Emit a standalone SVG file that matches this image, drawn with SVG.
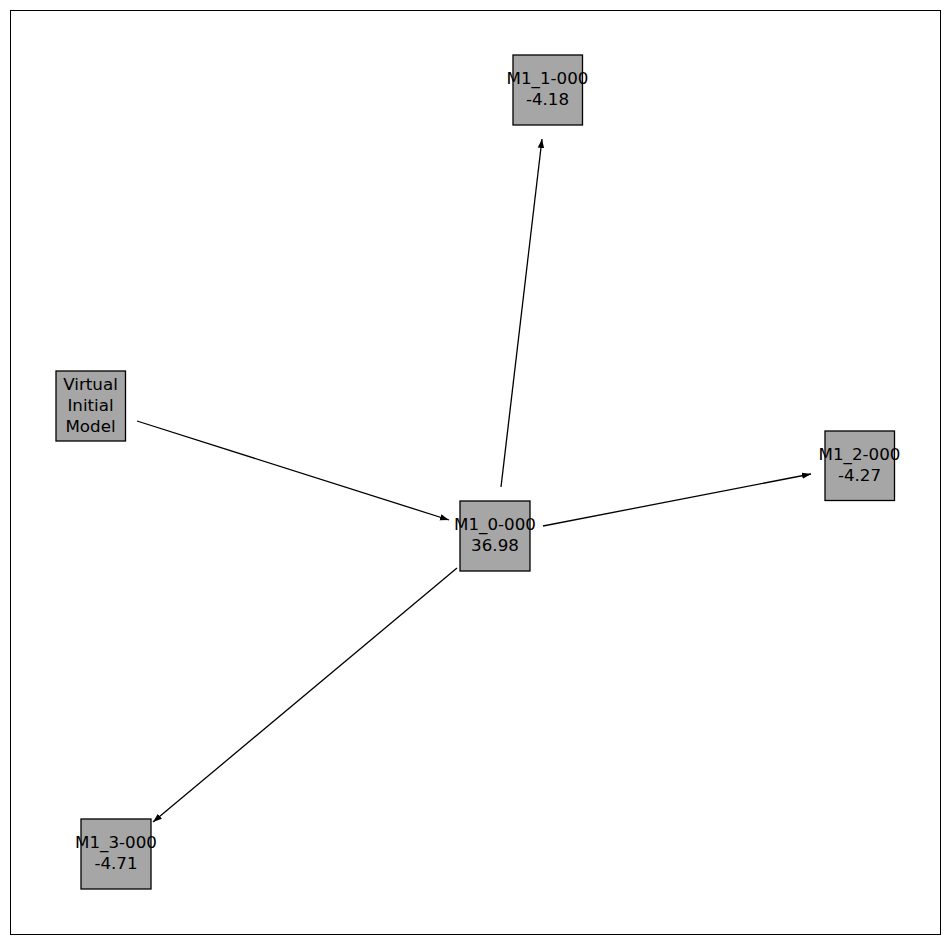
<svg xmlns="http://www.w3.org/2000/svg" width="950" height="944" viewBox="0 0 950 944">
<defs>
<marker id="ah" viewBox="0 0 9 7" refX="9" refY="3.5" markerWidth="9" markerHeight="7" markerUnits="userSpaceOnUse" orient="auto">
<path d="M0,0.3 L9,3.5 L0,6.7 Z" fill="#000"/>
</marker>
<style>
.node rect{fill:#a6a6a6;stroke:#000;stroke-width:1.3}
.node text{font-family:"DejaVu Sans",sans-serif;font-size:16.7px;fill:#000;text-anchor:middle}
.edge{stroke:#000;stroke-width:1.3;fill:none;marker-end:url(#ah)}
</style>
</defs>
<rect x="0" y="0" width="950" height="944" fill="#fff"/>
<rect x="10.5" y="10.5" width="930" height="924" fill="none" stroke="#000" stroke-width="1"/>
<g id="connectors">
<line class="edge" x1="137" y1="421" x2="449" y2="520"/>
<line class="edge" x1="501" y1="487" x2="542" y2="139"/>
<line class="edge" x1="543" y1="526" x2="811" y2="474"/>
<line class="edge" x1="457" y1="568" x2="153" y2="822"/>
</g>
<g id="node-virtual" class="node">
<rect x="56" y="371" width="69.5" height="70"/>
<text x="90.5" y="390">Virtual</text>
<text x="90.5" y="411">Initial</text>
<text x="90.5" y="432">Model</text>
</g>
<g id="node-M1_0" class="node">
<rect x="460" y="501" width="70" height="70"/>
<text x="495" y="530">M1_0-000</text>
<text x="495" y="551">36.98</text>
</g>
<g id="node-M1_1" class="node">
<rect x="513" y="55" width="69.5" height="70"/>
<text x="547.5" y="84">M1_1-000</text>
<text x="547.5" y="105">-4.18</text>
</g>
<g id="node-M1_2" class="node">
<rect x="825" y="431" width="69.5" height="69.5"/>
<text x="859.5" y="460">M1_2-000</text>
<text x="859.5" y="481">-4.27</text>
</g>
<g id="node-M1_3" class="node">
<rect x="81" y="819" width="70" height="70"/>
<text x="116" y="848">M1_3-000</text>
<text x="116" y="869">-4.71</text>
</g>
</svg>
